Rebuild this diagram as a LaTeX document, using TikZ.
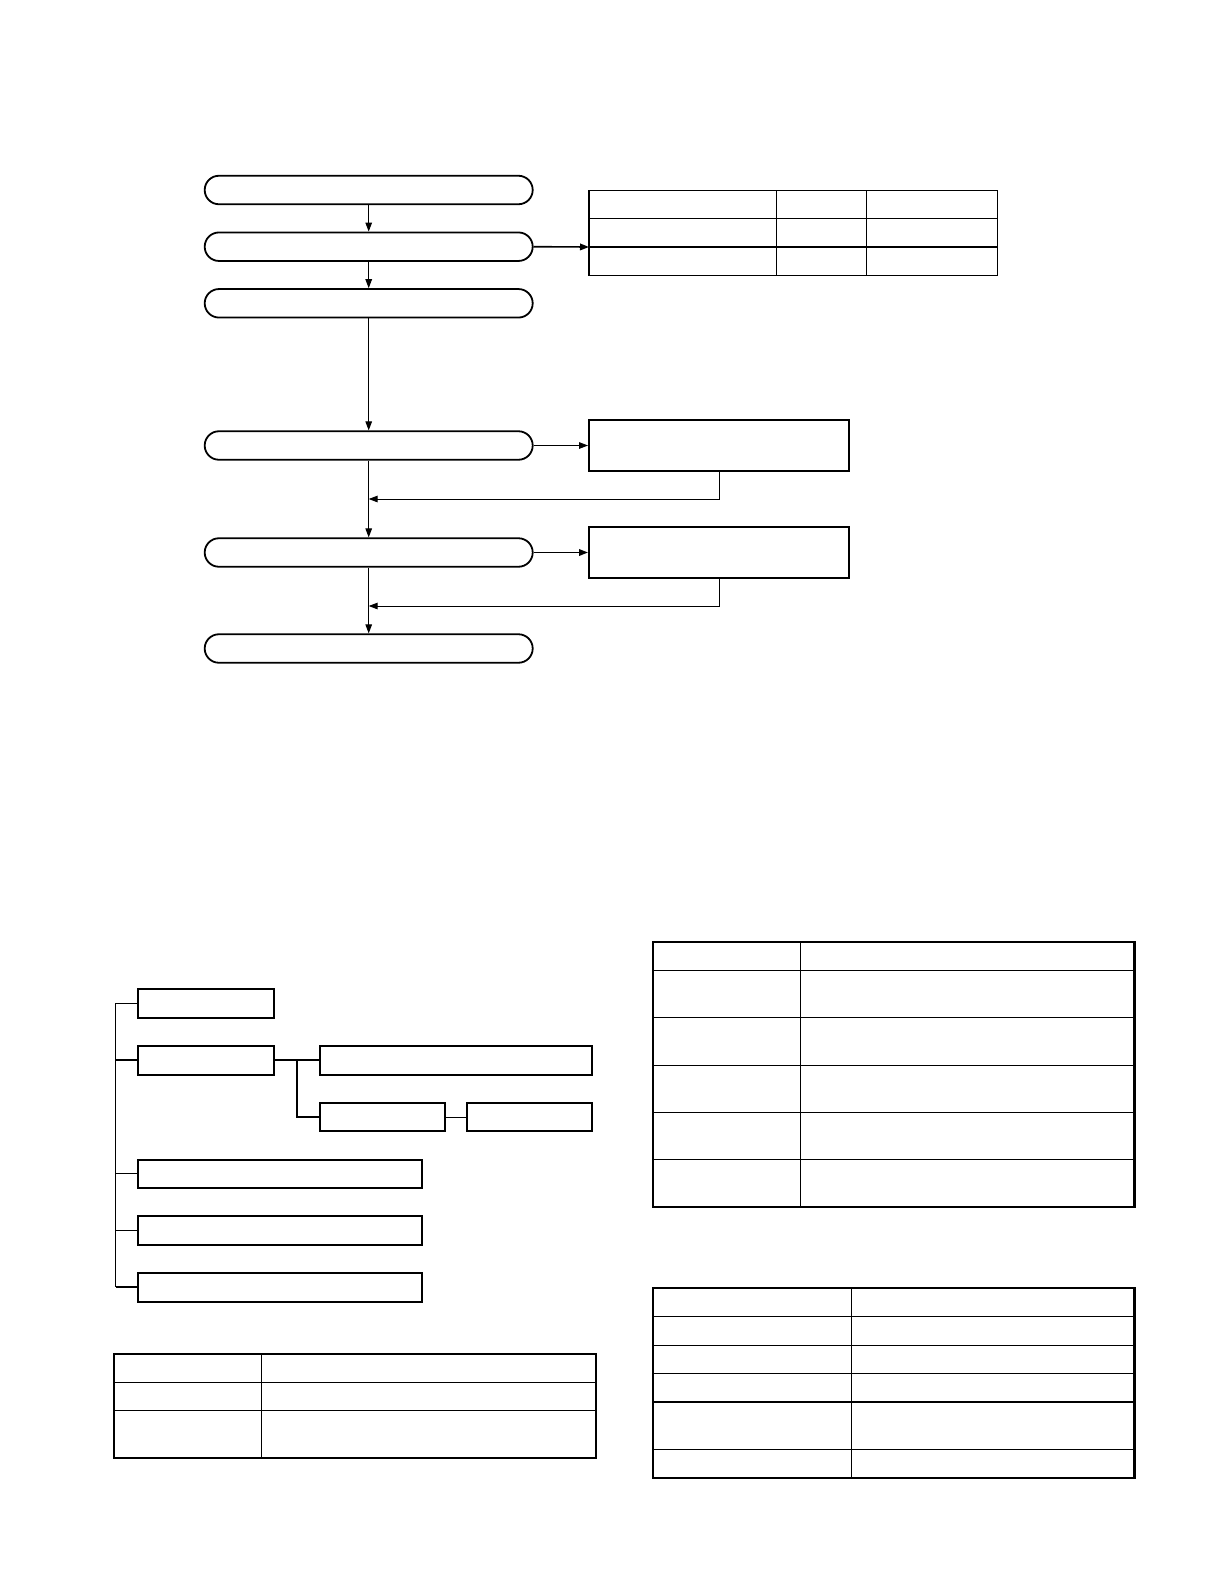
\documentclass[tikz,border=0pt]{standalone}
\usepackage{amsmath, amssymb, tikz}
\usetikzlibrary{positioning}
\usetikzlibrary{arrows.meta}
\usetikzlibrary{shapes.misc}

\begin{document}
\begin{tikzpicture}[x=0.5pt,y=-0.5pt,>={Triangle[length=4.5pt,width=3.3pt]},
    pill/.style={draw,rounded rectangle,line width=0.9pt,minimum width=164pt,minimum height=14.25pt,inner sep=0pt},
    infobox/.style={draw,rectangle,line width=1pt,minimum width=130pt,minimum height=25.5pt,inner sep=0pt},
    treebox/.style={draw,rectangle,line width=1pt,minimum height=14.25pt,inner sep=0pt},
    conn/.style={line width=0.5pt},
    tblout/.style={line width=1.1pt},
    tblin/.style={line width=0.6pt}]
    \useasboundingbox (0,0) rectangle (1224,1584);

    % flow chart
    \node[pill] (p1) at (368.7,190) {};
    \node[pill] (p2) at (368.7,246.7) {};
    \node[pill] (p3) at (368.7,303.3) {};
    \node[pill] (p4) at (368.7,445.5) {};
    \node[pill] (p5) at (368.7,552.5) {};
    \node[pill] (p6) at (368.7,648.5) {};
    \node[infobox] (ba) at (719,445.5) {};
    \node[infobox] (bb) at (719,552.5) {};
    \coordinate (tab) at (589,247);
    \coordinate (m1) at (368.7,499);
    \coordinate (m2) at (368.7,606);

    \draw [conn,->] (p1) -- (p2);
    \draw [conn,->] (p2) -- (p3);
    \draw [conn,->] (p3) -- (p4);
    \draw [conn,->] (p4) -- (p5);
    \draw [conn,->] (p5) -- (p6);
    \draw [line width=0.8pt,->] (p2.east) -- (tab);
    \draw [conn,->] (p4.east) -- (ba.west);
    \draw [line width=0.8pt,->] (p5.east) -- (bb.west);
    \draw [conn,->] (ba.south) |- (m1);
    \draw [conn,->] (bb.south) |- (m2);

    % table next to the flow chart
    \draw [tblin] (589,190.7) rectangle (997.3,275.3);
    \draw [tblin] (589,218.3) -- (997.3,218.3);
    \draw [line width=1pt] (tab) -- (997.3,247);
    \draw [tblin] (776.3,190.7) -- (776.3,275.3);
    \draw [tblin] (866.3,190.7) -- (866.3,275.3);

    % tree
    \node[treebox,minimum width=68.3pt] (t1) at (206,1003.5) {};
    \node[treebox,minimum width=68.3pt] (t2) at (206,1060.25) {};
    \node[treebox,minimum width=136.3pt] (t3) at (456,1060.25) {};
    \node[treebox,minimum width=62.7pt] (t4) at (382.4,1117) {};
    \node[treebox,minimum width=62.8pt] (t5) at (529.5,1117) {};
    \node[treebox,minimum width=142.2pt] (t6) at (279.9,1173.75) {};
    \node[treebox,minimum width=142.2pt] (t7) at (279.9,1230.5) {};
    \node[treebox,minimum width=142.2pt] (t8) at (279.9,1287.25) {};
    \coordinate (trunk) at (115.7,1003.5);
    \coordinate (fork) at (297,1060.25);

    \draw [conn] (t1.west) -- (trunk) -- (trunk |- t8.west);
    \draw [line width=0.9pt] (trunk |- t2.west) -- (t2.west);
    \draw [conn] (trunk |- t6.west) -- (t6.west);
    \draw [line width=0.9pt] (trunk |- t7.west) -- (t7.west);
    \draw [line width=0.9pt] (trunk |- t8.west) -- (t8.west);
    \draw [line width=0.9pt] (t2.east) -- (t3.west);
    \draw [line width=0.9pt] (fork) |- (t4.west);
    \draw [conn] (t4.east) -- (t5.west);

    % table below the tree
    \draw [tblout] (113.7,1354) rectangle (596,1457.7);
    \draw [tblin] (113.7,1382.3) -- (596,1382.3);
    \draw [tblin] (113.7,1410.3) -- (596,1410.3);
    \draw [tblin] (261.3,1354) -- (261.3,1457.7);

    % upper right table
    \draw [tblout] (652.7,942) rectangle (1134.5,1206.7);
    \draw [tblin] (652.7,970.3) -- (1134.5,970.3);
    \draw [tblin] (652.7,1017.3) -- (1134.5,1017.3);
    \draw [tblin] (652.7,1065.3) -- (1134.5,1065.3);
    \draw [tblin] (652.7,1112.3) -- (1134.5,1112.3);
    \draw [tblin] (652.7,1159.3) -- (1134.5,1159.3);
    \draw [tblin] (800.3,942) -- (800.3,1206.7);

    % lower right table
    \draw [tblout] (652.7,1288) rectangle (1134.5,1478);
    \draw [tblin] (652.7,1316.3) -- (1134.5,1316.3);
    \draw [tblin] (652.7,1345.3) -- (1134.5,1345.3);
    \draw [tblin] (652.7,1373.3) -- (1134.5,1373.3);
    \draw [tblin] (652.7,1402) -- (1134.5,1402);
    \draw [tblin] (652.7,1449.3) -- (1134.5,1449.3);
    \draw [tblin] (851.3,1288) -- (851.3,1478);
\end{tikzpicture}
\end{document}
